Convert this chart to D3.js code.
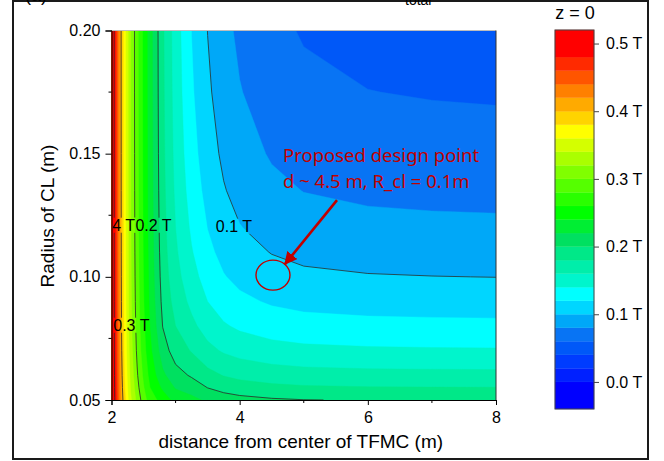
<!DOCTYPE html>
<html>
<head>
<meta charset="utf-8">
<script src="https://cdn.jsdelivr.net/npm/d3@7"></script>
<style>
  body { margin: 0; background: #fff; }
  svg { display: block; font-family: "Liberation Sans", Arial, sans-serif; }
</style>
</head>
<body>
<script>
// ---------- values
// grid columns: distance from center of TFMC (m)
var distVals = [2.0, 2.05, 2.1, 2.15, 2.2, 2.3, 2.4, 2.5, 2.6, 2.8, 3.0, 3.25, 3.5, 3.75, 4.0, 4.5, 5.0, 6.0, 7.0, 8.0]
// grid rows: radius of CL (m), bottom to top
var radiusVals = [0.05, 0.055, 0.06, 0.07, 0.08, 0.09, 0.10, 0.11, 0.12, 0.135, 0.15, 0.175, 0.20]
// |B| at z = 0 (T), one row per radius
var fieldGrid = [
  [0.5584, 0.5005, 0.4530, 0.4155, 0.3880, 0.3434, 0.3137, 0.2898, 0.2697, 0.2520, 0.2326, 0.2260, 0.2161, 0.2100, 0.2063, 0.2024, 0.2004, 0.1991, 0.1986, 0.1984],
  [0.5564, 0.4980, 0.4498, 0.4118, 0.3837, 0.3380, 0.3072, 0.2819, 0.2605, 0.2360, 0.2185, 0.2104, 0.1997, 0.1931, 0.1891, 0.1848, 0.1827, 0.1812, 0.1807, 0.1805],
  [0.5549, 0.4962, 0.4476, 0.4091, 0.3806, 0.3340, 0.3023, 0.2762, 0.2538, 0.2240, 0.2073, 0.1978, 0.1863, 0.1792, 0.1749, 0.1703, 0.1679, 0.1663, 0.1658, 0.1655],
  [0.5531, 0.4939, 0.4448, 0.4058, 0.3768, 0.3289, 0.2962, 0.2687, 0.2449, 0.2090, 0.1910, 0.1786, 0.1658, 0.1578, 0.1529, 0.1475, 0.1448, 0.1430, 0.1423, 0.1420],
  [0.5521, 0.4926, 0.4432, 0.4039, 0.3746, 0.3261, 0.2926, 0.2644, 0.2395, 0.1994, 0.1800, 0.1649, 0.1510, 0.1422, 0.1367, 0.1307, 0.1276, 0.1255, 0.1248, 0.1244],
  [0.5515, 0.4918, 0.4423, 0.4028, 0.3732, 0.3243, 0.2904, 0.2616, 0.2362, 0.1945, 0.1725, 0.1549, 0.1400, 0.1304, 0.1244, 0.1177, 0.1143, 0.1120, 0.1112, 0.1108],
  [0.5511, 0.4913, 0.4417, 0.4020, 0.3724, 0.3231, 0.2889, 0.2599, 0.2341, 0.1913, 0.1670, 0.1472, 0.1315, 0.1212, 0.1147, 0.1075, 0.1037, 0.1012, 0.1003, 0.0998],
  [0.5508, 0.4910, 0.4413, 0.4015, 0.3718, 0.3223, 0.2880, 0.2587, 0.2326, 0.1891, 0.1630, 0.1414, 0.1249, 0.1140, 0.1071, 0.0993, 0.0952, 0.0924, 0.0914, 0.0909],
  [0.5506, 0.4908, 0.4410, 0.4012, 0.3714, 0.3218, 0.2873, 0.2579, 0.2315, 0.1875, 0.1600, 0.1367, 0.1196, 0.1082, 0.1008, 0.0926, 0.0881, 0.0851, 0.0840, 0.0835],
  [0.5504, 0.4905, 0.4407, 0.4008, 0.3710, 0.3213, 0.2866, 0.2570, 0.2305, 0.1859, 0.1564, 0.1314, 0.1135, 0.1014, 0.0935, 0.0845, 0.0796, 0.0763, 0.0751, 0.0745],
  [0.5503, 0.4904, 0.4405, 0.4006, 0.3707, 0.3209, 0.2862, 0.2565, 0.2298, 0.1848, 0.1540, 0.1274, 0.1089, 0.0962, 0.0879, 0.0782, 0.0729, 0.0693, 0.0679, 0.0673],
  [0.5502, 0.4903, 0.4403, 0.4004, 0.3704, 0.3206, 0.2857, 0.2559, 0.2291, 0.1838, 0.1514, 0.1228, 0.1034, 0.0900, 0.0810, 0.0705, 0.0645, 0.0603, 0.0588, 0.0580],
  [0.5501, 0.4902, 0.4402, 0.4003, 0.3703, 0.3204, 0.2855, 0.2556, 0.2288, 0.1832, 0.1500, 0.1197, 0.0997, 0.0857, 0.0762, 0.0649, 0.0584, 0.0538, 0.0520, 0.0512]
]

// colour levels (lower edge of each band) and their colours
var bandLower = [-0.04, 0.00, 0.02, 0.04, 0.06, 0.08, 0.10, 0.12, 0.14, 0.16, 0.18, 0.20, 0.22,
                 0.24, 0.26, 0.28, 0.30, 0.32, 0.34, 0.36, 0.38, 0.40, 0.42, 0.44, 0.46, 0.48]
var bandTop = 0.52
var bandColors = ["#0000ff", "#0020ff", "#003cff", "#0058f8", "#0874f4", "#00a8f8", "#00d6ff", "#00ffff",
                  "#00f5cc", "#00eeaa", "#00e888", "#00e060", "#00ee33", "#00ff00", "#2aff00", "#55ff00",
                  "#80ff00", "#aaff00", "#d4ff00", "#ffff00", "#ffd400", "#ffaa00", "#ff8000", "#ff5500",
                  "#ff2a00", "#ff0000"]

var lineLevels = [0.1, 0.2, 0.3, 0.4, 0.5]
var lineLabels = [
  { text: "0.1 T", d: 3.91, r: 0.1206 },
  { text: "0.2 T", d: 2.655, r: 0.121 },
  { text: "0.3 T", d: 2.31, r: 0.0804 },
  { text: "0.4 T", d: 2.086, r: 0.121 }
]

var xTicks = [2, 4, 6, 8]
var xMinor = [3, 5, 7]
var yTicks = [0.05, 0.10, 0.15, 0.20]
var yMinor = [0.075, 0.125, 0.175]
var barTicks = [0.0, 0.1, 0.2, 0.3, 0.4, 0.5]

var designPoint = { d: 4.52, r: 0.1007 }
var noteLines = ["Proposed design point", "d ~ 4.5 m, R_cl = 0.1m"]

// ---------- layout
var svg = d3.select("body").append("svg")
    .attr("width", 664)
    .attr("height", 461)

var x = d3.scaleLinear().domain([2, 8]).range([111.5, 496])
var y = d3.scaleLinear().domain([0.05, 0.20]).range([400, 30.5])
var cb = d3.scaleLinear().domain([-0.04, 0.52]).range([409, 30])

var n = distVals.length, m = radiusVals.length
var colToDist = d3.scaleLinear().domain(d3.range(n)).range(distVals).clamp(true)
var rowToRad = d3.scaleLinear().domain(d3.range(m)).range(radiusVals).clamp(true)

// contour space -> pixels (grid value i sits at i + 0.5)
function px(p) {
  return [x(colToDist(p[0] - 0.5)), y(rowToRad(p[1] - 0.5))]
}

var defs = svg.append("defs")
defs.append("clipPath").attr("id", "plotClip")
  .append("rect")
    .attr("x", x(2)).attr("y", y(0.2))
    .attr("width", x(8) - x(2)).attr("height", y(0.05) - y(0.2))

// ---------- outer frame and the title cut at the top edge
svg.append("rect")
    .attr("x", 13).attr("y", 1)
    .attr("width", 635).attr("height", 458)
    .attr("fill", "none")
    .attr("stroke", "#1a1a1a")
    .attr("stroke-width", 2)

svg.append("text").attr("x", 25).attr("y", 1)
    .style("font-size", "18px").text("(a)")
svg.append("text").attr("x", 405).attr("y", 5)
    .style("font-size", "14px").text("total")

// ---------- filled bands
var flat = d3.merge(fieldGrid)
var plot = svg.append("g").attr("clip-path", "url(#plotClip)")

plot.append("rect")
    .attr("x", x(2)).attr("y", y(0.2))
    .attr("width", x(8) - x(2)).attr("height", y(0.05) - y(0.2))
    .attr("fill", bandColors[0])

var bandContours = d3.contours().size([n, m]).thresholds(bandLower.slice(1))(flat)
var proj = d3.geoTransform({
  point: function(u, v) {
    var q = px([u, v])
    this.stream.point(q[0], q[1])
  }
})
var path = d3.geoPath(proj)

plot.selectAll("path.band")
  .data(bandContours)
  .join("path")
    .attr("class", "band")
    .attr("d", path)
    .attr("fill", function(d, i) { return bandColors[i + 1] })
    .attr("stroke", function(d, i) { return bandColors[i + 1] })
    .attr("stroke-width", 0.4)

// ---------- iso lines (grid border pieces dropped)
function sides(p) {
  var u = Math.max(0, Math.min(n - 1, p[0] - 0.5))
  var v = Math.max(0, Math.min(m - 1, p[1] - 0.5))
  var s = []
  if (u <= 0) s.push("l")
  if (u >= n - 1) s.push("r")
  if (v <= 0) s.push("b")
  if (v >= m - 1) s.push("t")
  return s
}
function isoPath(geom) {
  var out = ""
  geom.coordinates.forEach(function(poly) {
    poly.forEach(function(ring) {
      var penUp = true
      for (var i = 1; i < ring.length; i++) {
        var a = ring[i - 1], b = ring[i]
        var sa = sides(a), sb = sides(b)
        if (sa.some(function(s) { return sb.indexOf(s) >= 0 })) { penUp = true; continue }
        if (penUp) {
          var pa = px(a)
          out += "M" + pa[0].toFixed(2) + "," + pa[1].toFixed(2)
          penUp = false
        }
        var pb = px(b)
        out += "L" + pb[0].toFixed(2) + "," + pb[1].toFixed(2)
      }
    })
  })
  return out
}

var lineContours = d3.contours().size([n, m]).thresholds(lineLevels)(flat)

var labelG = plot.append("g")
    .style("font-size", "16px")
    .attr("text-anchor", "middle")
var labelText = labelG.selectAll("text")
  .data(lineLabels)
  .join("text")
    .attr("x", function(d) { return x(d.d) })
    .attr("y", function(d) { return y(d.r) })
    .attr("dy", "0.35em")
    .text(function(d) { return d.text })

var mask = defs.append("mask").attr("id", "labelMask")
mask.append("rect").attr("x", 0).attr("y", 0).attr("width", 664).attr("height", 461).attr("fill", "#fff")
labelText.each(function() {
  var b = this.getBBox()
  mask.append("rect")
      .attr("x", b.x - 1).attr("y", b.y + 1)
      .attr("width", b.width + 2).attr("height", b.height - 2)
      .attr("fill", "#000")
})

plot.insert("g", function() { return labelG.node() })
    .attr("mask", "url(#labelMask)")
  .selectAll("path")
  .data(lineContours)
  .join("path")
    .attr("d", isoPath)
    .attr("fill", "none")
    .attr("stroke", "#2b2b2b")
    .attr("stroke-width", 0.8)

// ---------- plot frame and axes
svg.append("line")
    .attr("x1", x(2)).attr("x2", x(8))
    .attr("y1", y(0.2)).attr("y2", y(0.2))
    .attr("stroke", "#bdbdbd").attr("stroke-width", 1)
svg.append("line")
    .attr("x1", x(8)).attr("x2", x(8))
    .attr("y1", y(0.2)).attr("y2", y(0.05))
    .attr("stroke", "#333").attr("stroke-width", 1)

var xAxis = svg.append("g")
    .attr("transform", "translate(0," + y(0.05) + ")")
    .call(d3.axisBottom(x).tickValues(xTicks).tickFormat(d3.format("d")).tickSizeOuter(0).tickSize(5).tickPadding(7))
xAxis.selectAll(".tick line").attr("stroke", "#000")
xAxis.selectAll("text").style("font-size", "16px").attr("fill", "#000").style("font-family", "Liberation Sans, Arial, sans-serif")
xAxis.selectAll(".minor")
  .data(xMinor)
  .join("line")
    .attr("class", "minor")
    .attr("x1", function(d) { return x(d) }).attr("x2", function(d) { return x(d) })
    .attr("y1", 0).attr("y2", 3)
    .attr("stroke", "#000")

var yAxis = svg.append("g")
    .attr("transform", "translate(" + x(2) + ",0)")
    .call(d3.axisLeft(y).tickValues(yTicks).tickFormat(d3.format(".2f")).tickSizeOuter(0).tickSize(6).tickPadding(5))
yAxis.selectAll(".tick line").attr("stroke", "#000")
yAxis.selectAll("text").style("font-size", "16px").attr("fill", "#000").style("font-family", "Liberation Sans, Arial, sans-serif")
yAxis.selectAll(".minor")
  .data(yMinor)
  .join("line")
    .attr("class", "minor")
    .attr("y1", function(d) { return y(d) }).attr("y2", function(d) { return y(d) })
    .attr("x1", 0).attr("x2", -3)
    .attr("stroke", "#000")

svg.append("text")
    .attr("x", (x(2) + x(8)) / 2 - 3)
    .attr("y", 448)
    .attr("text-anchor", "middle")
    .style("font-size", "19px")
    .text("distance from center of TFMC (m)")

svg.append("text")
    .attr("transform", "translate(54,216) rotate(-90)")
    .attr("text-anchor", "middle")
    .style("font-size", "19px")
    .text("Radius of CL (m)")

// ---------- design point annotation
var cx = x(designPoint.d), cy = y(designPoint.r)
svg.append("ellipse")
    .attr("cx", cx).attr("cy", cy)
    .attr("rx", 17).attr("ry", 15)
    .attr("fill", "none")
    .attr("stroke", "#c00000")
    .attr("stroke-width", 1.4)

defs.append("marker")
    .attr("id", "arrowHead")
    .attr("viewBox", "0 0 10 10")
    .attr("refX", 9).attr("refY", 5)
    .attr("markerWidth", 5).attr("markerHeight", 5)
    .attr("orient", "auto")
  .append("path")
    .attr("d", "M0,0L10,5L0,10Z")
    .attr("fill", "#c00000")

svg.append("line")
    .attr("x1", cx + 64).attr("y1", cy - 75)
    .attr("x2", cx + 12).attr("y2", cy - 11)
    .attr("stroke", "#c00000")
    .attr("stroke-width", 2.6)
    .attr("marker-end", "url(#arrowHead)")

svg.append("g")
    .style("font-family", "'Noto Sans', 'Open Sans', sans-serif")
    .style("font-size", "18.5px")
    .attr("fill", "#c00000")
  .selectAll("text")
  .data(noteLines)
  .join("text")
    .attr("x", cx + 10)
    .attr("y", function(d, i) { return cy - 113 + i * 26 })
    .text(function(d) { return d })

// ---------- colour bar
var bar = svg.append("g")
bar.selectAll("rect")
  .data(bandLower)
  .join("rect")
    .attr("x", 555)
    .attr("width", 39)
    .attr("y", function(d, i) { return cb(i + 1 < bandLower.length ? bandLower[i + 1] : bandTop) })
    .attr("height", function(d, i) { return cb(d) - cb(i + 1 < bandLower.length ? bandLower[i + 1] : bandTop) })
    .attr("fill", function(d, i) { return bandColors[i] })
    .attr("stroke", function(d, i) { return bandColors[i] })
    .attr("stroke-width", 0.3)
bar.append("rect")
    .attr("x", 555).attr("y", cb(bandTop))
    .attr("width", 39).attr("height", cb(-0.04) - cb(bandTop))
    .attr("fill", "none")
    .attr("stroke", "#444")
    .attr("stroke-width", 1)

var barAxis = svg.append("g")
    .attr("transform", "translate(594,0)")
    .call(d3.axisRight(cb).tickValues(barTicks).tickFormat(function(d) { return d3.format(".1f")(d) + " T" }).tickSizeOuter(0).tickSize(5).tickPadding(7))
barAxis.select(".domain").remove()
barAxis.selectAll(".tick line").attr("stroke", "#444")
barAxis.selectAll("text").style("font-size", "16px").attr("fill", "#000").style("font-family", "Liberation Sans, Arial, sans-serif")

svg.append("text")
    .attr("x", 575).attr("y", 18.5)
    .attr("text-anchor", "middle")
    .style("font-size", "18px")
    .text("z = 0")
</script>
</body>
</html>
